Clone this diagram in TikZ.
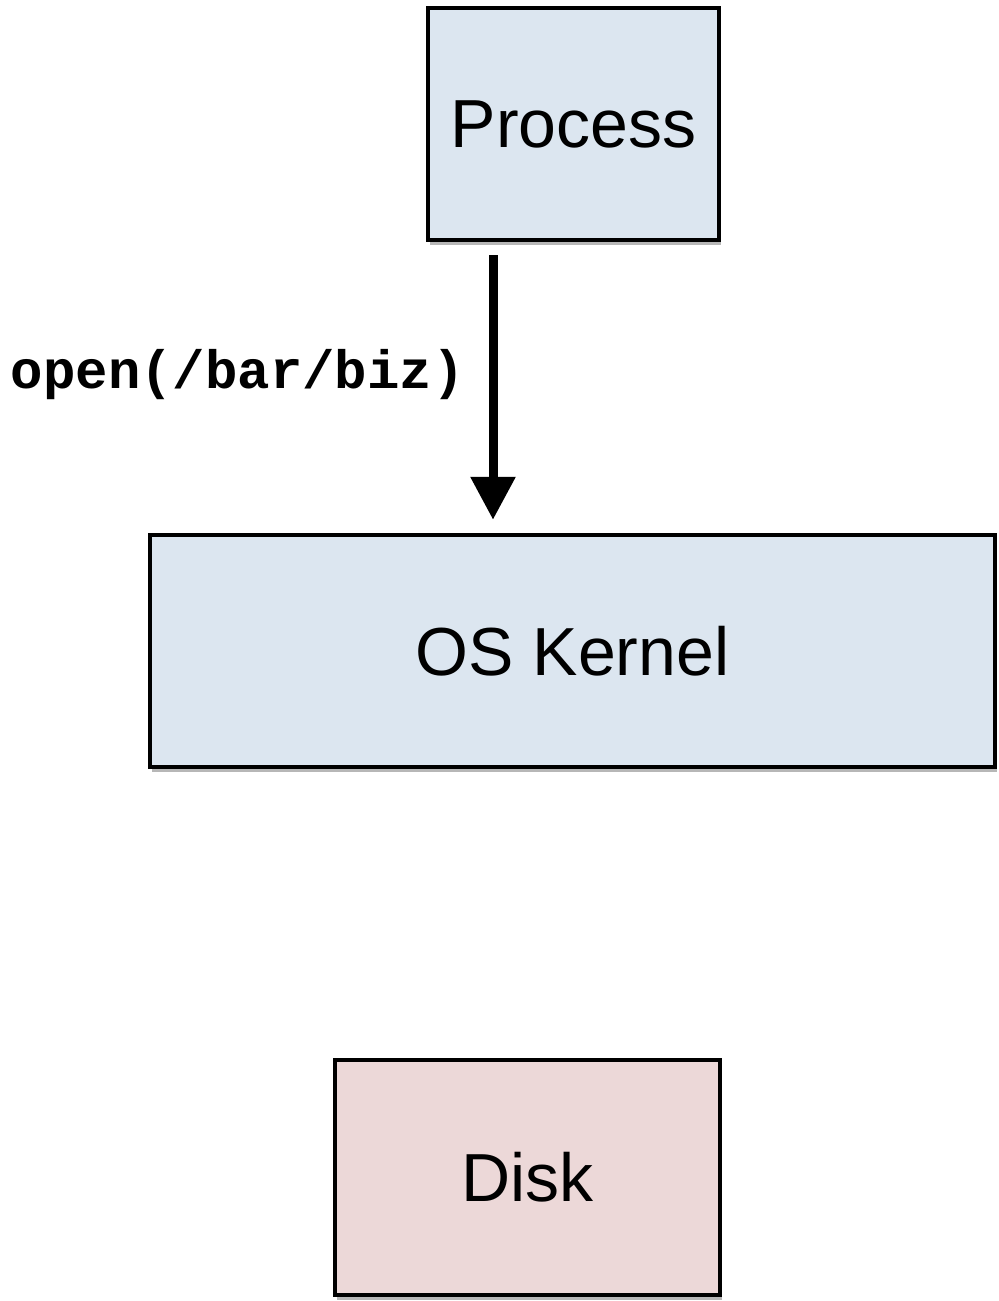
\documentclass[tikz,border=0pt]{standalone}
\usepackage{fontspec}
\setmainfont{Liberation Sans}
\newfontfamily\codefont{Liberation Mono}
\usetikzlibrary{positioning,shadows,calc,arrows.meta}
\usepackage{xcolor}

\definecolor{boxblue}{RGB}{220,230,240}
\definecolor{boxpink}{RGB}{236,216,216}

\begin{document}
\begin{tikzpicture}[x=0.5pt,y=-0.5pt,
	box/.style={draw=black,line width=2.2pt,inner sep=0pt,font=\fontsize{34}{40}\selectfont,
		drop shadow={shadow xshift=0.8pt,shadow yshift=-2.5pt,opacity=0.4,fill=black!70}},
	call/.style={line width=4.5pt,-{Triangle[width=21.5pt,length=21.5pt]}}]
	\useasboundingbox (0,0) rectangle (999,1301);
	\node[box,fill=boxblue,minimum width=145.5pt,minimum height=116pt] (proc) at (573.5,124) {Process};
	\node[box,fill=boxblue,minimum width=422.5pt,minimum height=116pt] (kern) at (572.5,651) {OS Kernel};
	\node[box,fill=boxpink,minimum width=192.5pt,minimum height=117.5pt] (disk) at (527.5,1177.5) {Disk};
	% system call into the kernel
	\draw[call] ([xshift=-40.25pt,yshift=-6.5pt]proc.south)
		-- ([xshift=-40.25pt,yshift=6.5pt]proc.south |- kern.north)
		node[pos=0.45,left=12pt,inner sep=0pt,font=\codefont\bfseries\fontsize{27}{30}\selectfont] (sys) {open(/bar/biz)};
\end{tikzpicture}
\end{document}
